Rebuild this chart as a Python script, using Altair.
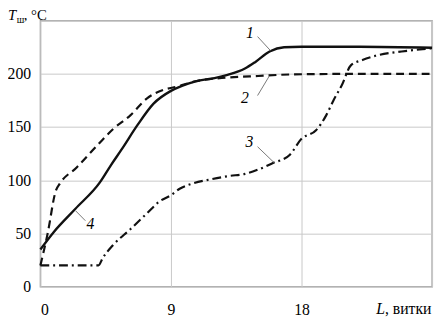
import altair as alt
import pandas as pd

# Curve 1 (solid)
x1 = [0, 0.9, 2.4, 4.1, 4.9, 5.6, 6.7, 7.8, 9, 9.8, 10.7, 12, 12.9, 14.1, 14.8, 15.8, 16.8, 18, 22, 27]
y1 = [35, 51, 73, 98, 115, 129, 152, 172, 184, 189, 193, 196, 199, 205, 211, 221, 225, 225.5, 225.5, 224.5]
# Curve 2 (dashed)
x2 = [0, 0.5, 1.06, 1.35, 2.5, 4, 5, 6.2, 7.35, 8.5, 9.4, 10.7, 12.9, 15, 17.5, 22, 27]
y2 = [20, 50, 90, 97, 112, 134, 148, 161, 177, 185, 188, 193, 196.5, 198, 199.5, 200, 200]
# Curve 3 (dash-dot)
x3 = [0, 4, 4.3, 5, 6.2, 7.35, 8.2, 9, 9.6, 10.5, 11.8, 13, 14.1, 15, 16, 17.2, 18, 19, 19.7, 20.2, 20.8, 21.4, 22.2, 23.1, 24.9, 27]
y3 = [20, 20, 27, 39, 54, 69, 80, 86, 92, 97, 101, 104, 106, 110, 116, 124, 139, 147, 161, 175, 190, 208, 213, 217, 221, 224]

# Curve labels and leader lines
lab_text = ["1", "2", "3", "4"]
lab_x = [14.45, 14.1, 14.4, 3.45]
lab_y = [238, 177, 136, 59]
lead_x = [14.97, 14.97, 14.97, 3.1]
lead_y = [235, 179.6, 131.5, 62]
lead_x2 = [15.85, 15.78, 16.1, 2.43]
lead_y2 = [222, 198, 116.7, 71.3]

x_ticks = [0, 9, 18, 27]
y_ticks = [0, 50, 100, 150, 200, 250]

FONT = "Liberation Serif, Times New Roman, DejaVu Serif, serif"

xs = alt.Scale(domain=[0, 27], nice=False, zero=False)
ys = alt.Scale(domain=[0, 250], nice=False)

xax = alt.Axis(values=x_ticks, grid=True, ticks=False, domain=False, labelExpr="datum.value == 27 ? '' : datum.label",
               labelFont=FONT, labelFontSize=16, labelColor="black", labelPadding=15, title=None)
yax = alt.Axis(values=y_ticks, grid=True, ticks=False, domain=False, labelExpr="datum.value == 250 ? '' : datum.label",
               labelFont=FONT, labelFontSize=16, labelColor="black", labelPadding=10, title=None)

def curve(xv, yv, dash, width):
    df = pd.DataFrame({"x": xv, "y": yv})
    props = dict(color="#111111", strokeWidth=width, interpolate="monotone")
    if dash:
        props["strokeDash"] = dash
    return alt.Chart(df).mark_line(**props).encode(
        x=alt.X("x:Q", scale=xs, axis=xax),
        y=alt.Y("y:Q", scale=ys, axis=yax),
    )

c1 = curve(x1, y1, None, 2.4)
c2 = curve(x2, y2, [8, 5], 2.2)
c3 = curve(x3, y3, [9, 4, 2, 4], 2.2)

lead_df = pd.DataFrame({"x": lead_x, "y": lead_y, "x2": lead_x2, "y2": lead_y2})
leads = alt.Chart(lead_df).mark_rule(color="#777777", strokeWidth=1).encode(
    x=alt.X("x:Q", scale=xs), y=alt.Y("y:Q", scale=ys), x2="x2:Q", y2="y2:Q")

lab_df = pd.DataFrame({"x": lab_x, "y": lab_y, "t": lab_text})
labs = alt.Chart(lab_df).mark_text(font=FONT, fontSize=16, fontStyle="italic", color="black").encode(
    x=alt.X("x:Q", scale=xs), y=alt.Y("y:Q", scale=ys), text="t:N")

one = pd.DataFrame({"a": [0]})
def txt(s, px, py, size=16, italic=False, align="left", baseline="alphabetic"):
    kw = dict(font=FONT, fontSize=size, color="black", align=align, baseline=baseline, text=s)
    if italic:
        kw["fontStyle"] = "italic"
    return alt.Chart(one).mark_text(**kw).encode(x=alt.value(px), y=alt.value(py))

t_T = txt("T", -33, -0.5, 15, italic=True)
t_sub = txt("ш", -24, 2.5, 10)
t_rest = txt(", °C", -17, -0.5, 15)
t_L = txt("L", 342, 299, 16, italic=True)
t_rest2 = txt(", витки", 351, 299, 16)

chart = alt.layer(c1, c2, c3, leads, labs, t_T, t_sub, t_rest, t_L, t_rest2).properties(
    width=399, height=271,
    autosize=alt.AutoSizeParams(type="none"),
    padding={"left": 33, "top": 10, "right": 5, "bottom": 28},
).configure_view(stroke="#a8a8a8", strokeWidth=1.5).configure_axis(
    gridColor="#c8c8c8", gridWidth=1
)

chart.save("out.html", embed_options={"renderer": "svg", "actions": False})
